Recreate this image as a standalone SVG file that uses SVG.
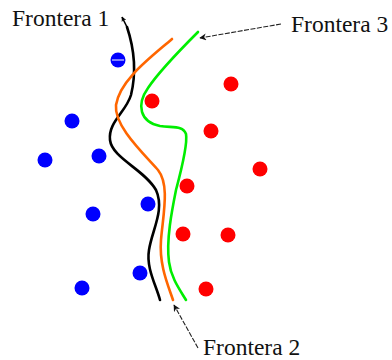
<svg xmlns="http://www.w3.org/2000/svg" width="392" height="360" viewBox="0 0 392 360">
  <defs>
    <marker id="arrow" viewBox="0 0 10 10" refX="9" refY="5" markerWidth="7" markerHeight="7" orient="auto" markerUnits="userSpaceOnUse">
      <path d="M0,0 L10,5 L0,10 L3,5 Z" fill="#111"/>
    </marker>
    <marker id="tip" viewBox="0 0 10 10" refX="9" refY="5" markerWidth="5" markerHeight="5" orient="auto" markerUnits="userSpaceOnUse">
      <path d="M0,0 L10,5 L0,10 L3,5 Z" fill="#000"/>
    </marker>
    <filter id="soft" x="-30%" y="-30%" width="160%" height="160%">
      <feGaussianBlur stdDeviation="0.6"/>
    </filter>
  </defs>
  <style>
    .blue { fill: #0000ff; }
    .red { fill: #ff0000; }
    .curve { fill: none; stroke-width: 2.6; stroke-linecap: round; stroke-linejoin: round; }
    .lbl { font-family: "Liberation Serif", "Times New Roman", serif; font-size: 23.5px; fill: #111; }
    .ptr { stroke: #222; stroke-width: 1.1; stroke-dasharray: 5 1.5; fill: none; marker-end: url(#arrow); }
  </style>
  <rect width="392" height="360" fill="#ffffff"/>

  <!-- class A samples -->
  <g id="blue-points" filter="url(#soft)">
    <circle class="blue" cx="118" cy="60" r="7.5"/>
    <circle class="blue" cx="72" cy="121" r="7.5"/>
    <circle class="blue" cx="45" cy="160" r="7.5"/>
    <circle class="blue" cx="99" cy="156" r="7.5"/>
    <circle class="blue" cx="93" cy="214" r="7.5"/>
    <circle class="blue" cx="148" cy="204" r="7.5"/>
    <circle class="blue" cx="140" cy="273" r="7.5"/>
    <circle class="blue" cx="82" cy="288" r="7.5"/>
  </g>
  <line x1="112" y1="60" x2="124" y2="60" stroke="#fff" stroke-width="1"/>

  <!-- class B samples -->
  <g id="red-points" filter="url(#soft)">
    <circle class="red" cx="152" cy="101" r="7.5"/>
    <circle class="red" cx="231" cy="84" r="7.5"/>
    <circle class="red" cx="211" cy="131" r="7.5"/>
    <circle class="red" cx="260" cy="169" r="7.5"/>
    <circle class="red" cx="187" cy="186" r="7.5"/>
    <circle class="red" cx="183" cy="234" r="7.5"/>
    <circle class="red" cx="228" cy="235" r="7.5"/>
    <circle class="red" cx="206" cy="289" r="7.5"/>
  </g>

  <!-- decision boundaries -->
  <g id="frontera-1">
    <path class="curve" stroke="#000" d="M127,27 C133,45 137,70 131,95 C126,112 108,122 110,140 C112,158 145,170 156,190 C165,210 152,230 149,250 C146,268 156,285 160,300"/>
  </g>
  <g id="frontera-2">
    <path class="curve" stroke="#ff6600" d="M172,39 C150,58 120,80 116,105 C114,125 140,150 158,170 C170,185 163,215 161,240 C159,265 168,285 173,300"/>
  </g>
  <g id="frontera-3">
    <path class="curve" stroke="#00ee00" d="M198,32 C180,50 160,70 148,88 C136,105 140,122 160,126 C172,128 183,125 186,134 C188,145 180,175 176,190 C172,210 166,240 169,262 C171,278 180,290 186,300"/>
  </g>

  <!-- label pointers -->
  <g id="connectors">
    <line x1="127" y1="27" x2="122" y2="17" stroke="#000" stroke-width="1.6" marker-end="url(#tip)"/>
    <line class="ptr" x1="281" y1="24" x2="200" y2="38"/>
    <line class="ptr" x1="198" y1="348" x2="174" y2="305"/>
  </g>

  <!-- labels -->
  <g id="label-1"><text class="lbl" x="12" y="26">Frontera 1</text></g>
  <g id="label-3"><text class="lbl" x="291" y="32">Frontera 3</text></g>
  <g id="label-2"><text class="lbl" x="203" y="355">Frontera 2</text></g>
</svg>
